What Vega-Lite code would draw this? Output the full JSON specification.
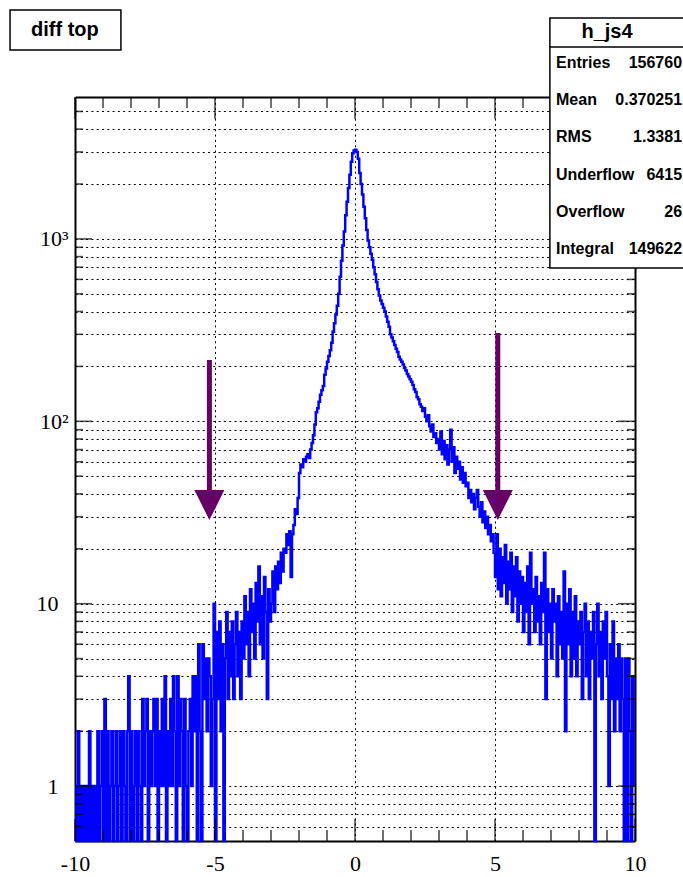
{
"$schema": "https://vega.github.io/schema/vega-lite/v6.json",
"width": 560, "height": 744,
"autosize": {"type": "none"},
"padding": {"left": 75, "top": 97, "right": 48, "bottom": 36},
"background": "white",
"config": {"view": {"stroke": null}, "axis": {"title": null, "labelFlush": false, "labelOverlap": false, "labelBound": false}},
"datasets": {
"hist": [
{"x":-10,"n":1},{"x":-9.95,"n":0},{"x":-9.9,"n":2},{"x":-9.85,"n":0},{"x":-9.8,"n":1},{"x":-9.75,"n":0},{"x":-9.7,"n":1},{"x":-9.65,"n":0},{"x":-9.6,"n":1},{"x":-9.55,"n":0},{"x":-9.5,"n":2},{"x":-9.45,"n":0},{"x":-9.4,"n":1},{"x":-9.35,"n":0},{"x":-9.3,"n":1},{"x":-9.25,"n":0},{"x":-9.2,"n":2},{"x":-9.15,"n":0},{"x":-9.1,"n":1},{"x":-9.05,"n":2},
{"x":-9,"n":0},{"x":-8.95,"n":3},{"x":-8.9,"n":0},{"x":-8.85,"n":2},{"x":-8.8,"n":0},{"x":-8.75,"n":1},{"x":-8.7,"n":2},{"x":-8.65,"n":0},{"x":-8.6,"n":1},{"x":-8.55,"n":2},{"x":-8.5,"n":0},{"x":-8.45,"n":1},{"x":-8.4,"n":2},{"x":-8.35,"n":0},{"x":-8.3,"n":2},{"x":-8.25,"n":1},{"x":-8.2,"n":0},{"x":-8.15,"n":2},{"x":-8.1,"n":4},{"x":-8.05,"n":0},
{"x":-8,"n":2},{"x":-7.95,"n":0},{"x":-7.9,"n":1},{"x":-7.85,"n":2},{"x":-7.8,"n":0},{"x":-7.75,"n":2},{"x":-7.7,"n":1},{"x":-7.65,"n":0},{"x":-7.6,"n":3},{"x":-7.55,"n":1},{"x":-7.5,"n":2},{"x":-7.45,"n":3},{"x":-7.4,"n":0},{"x":-7.35,"n":2},{"x":-7.3,"n":1},{"x":-7.25,"n":2},{"x":-7.2,"n":3},{"x":-7.15,"n":1},{"x":-7.1,"n":3},{"x":-7.05,"n":0},
{"x":-7,"n":2},{"x":-6.95,"n":1},{"x":-6.9,"n":3},{"x":-6.85,"n":1},{"x":-6.8,"n":4},{"x":-6.75,"n":0},{"x":-6.7,"n":2},{"x":-6.65,"n":1},{"x":-6.6,"n":3},{"x":-6.55,"n":1},{"x":-6.5,"n":4},{"x":-6.45,"n":2},{"x":-6.4,"n":0},{"x":-6.35,"n":4},{"x":-6.3,"n":1},{"x":-6.25,"n":3},{"x":-6.2,"n":2},{"x":-6.15,"n":0},{"x":-6.1,"n":3},{"x":-6.05,"n":1},
{"x":-6,"n":0},{"x":-5.95,"n":2},{"x":-5.9,"n":3},{"x":-5.85,"n":1},{"x":-5.8,"n":4},{"x":-5.75,"n":2},{"x":-5.7,"n":4},{"x":-5.65,"n":0},{"x":-5.6,"n":6},{"x":-5.55,"n":2},{"x":-5.5,"n":0},{"x":-5.45,"n":6},{"x":-5.4,"n":3},{"x":-5.35,"n":5},{"x":-5.3,"n":2},{"x":-5.25,"n":5},{"x":-5.2,"n":4},{"x":-5.15,"n":1},{"x":-5.1,"n":3},{"x":-5.05,"n":10},
{"x":-5,"n":0},{"x":-4.95,"n":7},{"x":-4.9,"n":3},{"x":-4.85,"n":8},{"x":-4.8,"n":2},{"x":-4.75,"n":6},{"x":-4.7,"n":0},{"x":-4.65,"n":5},{"x":-4.6,"n":9},{"x":-4.55,"n":3},{"x":-4.5,"n":7},{"x":-4.45,"n":4},{"x":-4.4,"n":8},{"x":-4.35,"n":3},{"x":-4.3,"n":6},{"x":-4.25,"n":9},{"x":-4.2,"n":4},{"x":-4.15,"n":7},{"x":-4.1,"n":3},{"x":-4.05,"n":8},
{"x":-4,"n":5},{"x":-3.95,"n":11},{"x":-3.9,"n":6},{"x":-3.85,"n":9},{"x":-3.8,"n":4},{"x":-3.75,"n":12},{"x":-3.7,"n":7},{"x":-3.65,"n":10},{"x":-3.6,"n":5},{"x":-3.55,"n":13},{"x":-3.5,"n":8},{"x":-3.45,"n":16},{"x":-3.4,"n":6},{"x":-3.35,"n":11},{"x":-3.3,"n":5},{"x":-3.25,"n":14},{"x":-3.2,"n":9},{"x":-3.15,"n":3},{"x":-3.1,"n":12},{"x":-3.05,"n":8},
{"x":-3,"n":10},{"x":-2.95,"n":15},{"x":-2.9,"n":9},{"x":-2.85,"n":16},{"x":-2.8,"n":12},{"x":-2.75,"n":17},{"x":-2.7,"n":13},{"x":-2.65,"n":19},{"x":-2.6,"n":15},{"x":-2.55,"n":20},{"x":-2.5,"n":19},{"x":-2.45,"n":24},{"x":-2.4,"n":21},{"x":-2.35,"n":25},{"x":-2.3,"n":14},{"x":-2.25,"n":24},{"x":-2.2,"n":27},{"x":-2.15,"n":33},{"x":-2.1,"n":31},{"x":-2.05,"n":38},
{"x":-2,"n":52},{"x":-1.95,"n":58},{"x":-1.9,"n":56},{"x":-1.85,"n":62},{"x":-1.8,"n":60},{"x":-1.75,"n":64},{"x":-1.7,"n":66},{"x":-1.65,"n":63},{"x":-1.6,"n":70},{"x":-1.55,"n":76},{"x":-1.5,"n":84},{"x":-1.45,"n":96},{"x":-1.4,"n":112},{"x":-1.35,"n":118},{"x":-1.3,"n":128},{"x":-1.25,"n":140},{"x":-1.2,"n":148},{"x":-1.15,"n":156},{"x":-1.1,"n":180},{"x":-1.05,"n":195},
{"x":-1,"n":212},{"x":-0.95,"n":228},{"x":-0.9,"n":245},{"x":-0.85,"n":270},{"x":-0.8,"n":310},{"x":-0.75,"n":345},{"x":-0.7,"n":385},{"x":-0.65,"n":430},{"x":-0.6,"n":500},{"x":-0.55,"n":620},{"x":-0.5,"n":760},{"x":-0.45,"n":920},{"x":-0.4,"n":1100},{"x":-0.35,"n":1350},{"x":-0.3,"n":1600},{"x":-0.25,"n":1900},{"x":-0.2,"n":2250},{"x":-0.15,"n":2650},{"x":-0.1,"n":2950},{"x":-0.05,"n":3050},
{"x":0,"n":3080},{"x":0.05,"n":3000},{"x":0.1,"n":2750},{"x":0.15,"n":2300},{"x":0.2,"n":2000},{"x":0.25,"n":1750},{"x":0.3,"n":1500},{"x":0.35,"n":1300},{"x":0.4,"n":1120},{"x":0.45,"n":980},{"x":0.5,"n":900},{"x":0.55,"n":830},{"x":0.6,"n":770},{"x":0.65,"n":700},{"x":0.7,"n":640},{"x":0.75,"n":580},{"x":0.8,"n":530},{"x":0.85,"n":490},{"x":0.9,"n":460},{"x":0.95,"n":440},
{"x":1,"n":420},{"x":1.05,"n":400},{"x":1.1,"n":375},{"x":1.15,"n":352},{"x":1.2,"n":330},{"x":1.25,"n":300},{"x":1.3,"n":288},{"x":1.35,"n":275},{"x":1.4,"n":262},{"x":1.45,"n":250},{"x":1.5,"n":240},{"x":1.55,"n":226},{"x":1.6,"n":218},{"x":1.65,"n":212},{"x":1.7,"n":205},{"x":1.75,"n":196},{"x":1.8,"n":190},{"x":1.85,"n":182},{"x":1.9,"n":176},{"x":1.95,"n":170},
{"x":2,"n":165},{"x":2.05,"n":158},{"x":2.1,"n":150},{"x":2.15,"n":145},{"x":2.2,"n":136},{"x":2.25,"n":132},{"x":2.3,"n":124},{"x":2.35,"n":120},{"x":2.4,"n":114},{"x":2.45,"n":118},{"x":2.5,"n":106},{"x":2.55,"n":100},{"x":2.6,"n":108},{"x":2.65,"n":94},{"x":2.7,"n":88},{"x":2.75,"n":96},{"x":2.8,"n":82},{"x":2.85,"n":86},{"x":2.9,"n":76},{"x":2.95,"n":80},
{"x":3,"n":70},{"x":3.05,"n":88},{"x":3.1,"n":66},{"x":3.15,"n":78},{"x":3.2,"n":62},{"x":3.25,"n":74},{"x":3.3,"n":58},{"x":3.35,"n":70},{"x":3.4,"n":90},{"x":3.45,"n":60},{"x":3.5,"n":72},{"x":3.55,"n":52},{"x":3.6,"n":64},{"x":3.65,"n":55},{"x":3.7,"n":60},{"x":3.75,"n":48},{"x":3.8,"n":56},{"x":3.85,"n":46},{"x":3.9,"n":52},{"x":3.95,"n":44},
{"x":4,"n":46},{"x":4.05,"n":38},{"x":4.1,"n":42},{"x":4.15,"n":36},{"x":4.2,"n":40},{"x":4.25,"n":33},{"x":4.3,"n":38},{"x":4.35,"n":42},{"x":4.4,"n":34},{"x":4.45,"n":30},{"x":4.5,"n":36},{"x":4.55,"n":28},{"x":4.6,"n":32},{"x":4.65,"n":26},{"x":4.7,"n":30},{"x":4.75,"n":24},{"x":4.8,"n":27},{"x":4.85,"n":22},{"x":4.9,"n":24},{"x":4.95,"n":19},
{"x":5,"n":14},{"x":5.05,"n":24},{"x":5.1,"n":12},{"x":5.15,"n":20},{"x":5.2,"n":11},{"x":5.25,"n":18},{"x":5.3,"n":13},{"x":5.35,"n":21},{"x":5.4,"n":10},{"x":5.45,"n":17},{"x":5.5,"n":12},{"x":5.55,"n":19},{"x":5.6,"n":9},{"x":5.65,"n":16},{"x":5.7,"n":11},{"x":5.75,"n":18},{"x":5.8,"n":8},{"x":5.85,"n":15},{"x":5.9,"n":10},{"x":5.95,"n":14},
{"x":6,"n":7},{"x":6.05,"n":13},{"x":6.1,"n":9},{"x":6.15,"n":16},{"x":6.2,"n":6},{"x":6.25,"n":19},{"x":6.3,"n":10},{"x":6.35,"n":12},{"x":6.4,"n":7},{"x":6.45,"n":14},{"x":6.5,"n":8},{"x":6.55,"n":11},{"x":6.6,"n":6},{"x":6.65,"n":13},{"x":6.7,"n":9},{"x":6.75,"n":19},{"x":6.8,"n":3},{"x":6.85,"n":12},{"x":6.9,"n":7},{"x":6.95,"n":10},
{"x":7,"n":5},{"x":7.05,"n":12},{"x":7.1,"n":8},{"x":7.15,"n":10},{"x":7.2,"n":4},{"x":7.25,"n":11},{"x":7.3,"n":6},{"x":7.35,"n":9},{"x":7.4,"n":5},{"x":7.45,"n":15},{"x":7.5,"n":2},{"x":7.55,"n":10},{"x":7.6,"n":6},{"x":7.65,"n":12},{"x":7.7,"n":4},{"x":7.75,"n":9},{"x":7.8,"n":5},{"x":7.85,"n":11},{"x":7.9,"n":4},{"x":7.95,"n":8},
{"x":8,"n":6},{"x":8.05,"n":9},{"x":8.1,"n":3},{"x":8.15,"n":7},{"x":8.2,"n":10},{"x":8.25,"n":4},{"x":8.3,"n":8},{"x":8.35,"n":3},{"x":8.4,"n":7},{"x":8.45,"n":5},{"x":8.5,"n":9},{"x":8.55,"n":0},{"x":8.6,"n":6},{"x":8.65,"n":10},{"x":8.7,"n":4},{"x":8.75,"n":7},{"x":8.8,"n":3},{"x":8.85,"n":8},{"x":8.9,"n":5},{"x":8.95,"n":9},
{"x":9,"n":4},{"x":9.05,"n":1},{"x":9.1,"n":6},{"x":9.15,"n":3},{"x":9.2,"n":8},{"x":9.25,"n":2},{"x":9.3,"n":5},{"x":9.35,"n":3},{"x":9.4,"n":6},{"x":9.45,"n":2},{"x":9.5,"n":5},{"x":9.55,"n":3},{"x":9.6,"n":0},{"x":9.65,"n":5},{"x":9.7,"n":0},{"x":9.75,"n":5},{"x":9.8,"n":2},{"x":9.85,"n":0},{"x":9.9,"n":4},{"x":9.95,"n":1}
],
"arrows": [{"x":-5.2,"top":217,"base":42},{"x":5.1,"top":305,"base":42}],
"stats": [{"stat":"Entries","value":"156760"},{"stat":"Mean","value":"0.370251"},{"stat":"RMS","value":"1.3381"},{"stat":"Underflow","value":"6415"},{"stat":"Overflow","value":"26"},{"stat":"Integral","value":"149622"}],
"tickx": [{"v":-10,"len":22},{"v":-9,"len":11},{"v":-8,"len":11},{"v":-7,"len":11},{"v":-6,"len":11},{"v":-5,"len":22},{"v":-4,"len":11},{"v":-3,"len":11},{"v":-2,"len":11},{"v":-1,"len":11},{"v":0,"len":22},{"v":1,"len":11},{"v":2,"len":11},{"v":3,"len":11},{"v":4,"len":11},{"v":5,"len":22},{"v":6,"len":11},{"v":7,"len":11},{"v":8,"len":11},{"v":9,"len":11},{"v":10,"len":22}],
"ticky": [{"v":0.6,"len":8},{"v":0.7,"len":8},{"v":0.8,"len":8},{"v":0.9,"len":8},{"v":1,"len":17},{"v":2,"len":8},{"v":3,"len":8},{"v":4,"len":8},{"v":5,"len":8},{"v":6,"len":8},{"v":7,"len":8},{"v":8,"len":8},{"v":9,"len":8},{"v":10,"len":17},{"v":20,"len":8},{"v":30,"len":8},{"v":40,"len":8},{"v":50,"len":8},{"v":60,"len":8},{"v":70,"len":8},{"v":80,"len":8},{"v":90,"len":8},{"v":100,"len":17},{"v":200,"len":8},{"v":300,"len":8},{"v":400,"len":8},{"v":500,"len":8},{"v":600,"len":8},{"v":700,"len":8},{"v":800,"len":8},{"v":900,"len":8},{"v":1000,"len":17},{"v":2000,"len":8},{"v":3000,"len":8},{"v":4000,"len":8},{"v":5000,"len":8}]
},
"layer": [
{
 "data": {"name": "hist"},
 "mark": {"type": "line", "interpolate": "step-after", "color": "#0000ff", "strokeWidth": 2.5},
 "encoding": {
  "x": {"field": "x", "type": "quantitative", "scale": {"domain": [-10, 10], "nice": false, "zero": false},
   "axis": {"orient": "bottom", "values": [-5,0,5], "zindex": 0, "domain": true, "domainColor": "black", "domainWidth": 2, "ticks": false, "labels": false,
    "grid": true, "gridColor": "black", "gridWidth": 1, "gridDash": [2, 3.3]}},
  "y": {"field": "n", "type": "quantitative", "scale": {"type": "log", "domain": [0.5, 6000], "nice": false, "clamp": true},
   "axis": {"orient": "left", "values": [0.6,0.7,0.8,0.9,1,2,3,4,5,6,7,8,9,10,20,30,40,50,60,70,80,90,100,200,300,400,500,600,700,800,900,1000,2000,3000,4000,5000], "zindex": 0,
    "domain": true, "domainColor": "black", "domainWidth": 2, "ticks": false, "labels": false,
    "grid": true, "gridColor": "black", "gridWidth": 1, "gridDash": [2, 3.3]}}
 }
},
{
 "data": {"name": "tickx"},
 "transform": [{"filter": "datum.len == 22"}],
 "mark": {"type": "tick", "color": "black", "thickness": 1.6, "orient": "vertical", "size": 22, "yOffset": -11},
 "encoding": {
  "x": {"field": "v", "type": "quantitative", "scale": {"domain": [-10, 10], "nice": false, "zero": false}, "axis": null},
  "y": {"datum": 0.5, "type": "quantitative", "scale": {"type": "log", "domain": [0.5, 6000], "nice": false}, "axis": null}
 }
},
{
 "data": {"name": "tickx"},
 "transform": [{"filter": "datum.len == 22"}],
 "mark": {"type": "tick", "color": "black", "thickness": 1.6, "orient": "vertical", "size": 22, "yOffset": 11},
 "encoding": {
  "x": {"field": "v", "type": "quantitative", "scale": {"domain": [-10, 10], "nice": false, "zero": false}, "axis": null},
  "y": {"datum": 6000, "type": "quantitative", "scale": {"type": "log", "domain": [0.5, 6000], "nice": false}, "axis": null}
 }
},
{
 "data": {"name": "tickx"},
 "transform": [{"filter": "datum.len == 11"}],
 "mark": {"type": "tick", "color": "black", "thickness": 1.6, "orient": "vertical", "size": 11, "yOffset": -5.5},
 "encoding": {
  "x": {"field": "v", "type": "quantitative", "scale": {"domain": [-10, 10], "nice": false, "zero": false}, "axis": null},
  "y": {"datum": 0.5, "type": "quantitative", "scale": {"type": "log", "domain": [0.5, 6000], "nice": false}, "axis": null}
 }
},
{
 "data": {"name": "tickx"},
 "transform": [{"filter": "datum.len == 11"}],
 "mark": {"type": "tick", "color": "black", "thickness": 1.6, "orient": "vertical", "size": 11, "yOffset": 5.5},
 "encoding": {
  "x": {"field": "v", "type": "quantitative", "scale": {"domain": [-10, 10], "nice": false, "zero": false}, "axis": null},
  "y": {"datum": 6000, "type": "quantitative", "scale": {"type": "log", "domain": [0.5, 6000], "nice": false}, "axis": null}
 }
},
{
 "data": {"name": "ticky"},
 "transform": [{"filter": "datum.len == 17"}],
 "mark": {"type": "tick", "color": "black", "thickness": 1.6, "orient": "horizontal", "size": 17, "xOffset": 8.5},
 "encoding": {
  "y": {"field": "v", "type": "quantitative", "scale": {"type": "log", "domain": [0.5, 6000], "nice": false}, "axis": null},
  "x": {"datum": -10, "type": "quantitative", "scale": {"domain": [-10, 10], "nice": false, "zero": false}, "axis": null}
 }
},
{
 "data": {"name": "ticky"},
 "transform": [{"filter": "datum.len == 17"}],
 "mark": {"type": "tick", "color": "black", "thickness": 1.6, "orient": "horizontal", "size": 17, "xOffset": -8.5},
 "encoding": {
  "y": {"field": "v", "type": "quantitative", "scale": {"type": "log", "domain": [0.5, 6000], "nice": false}, "axis": null},
  "x": {"datum": 10, "type": "quantitative", "scale": {"domain": [-10, 10], "nice": false, "zero": false}, "axis": null}
 }
},
{
 "data": {"name": "ticky"},
 "transform": [{"filter": "datum.len == 8"}],
 "mark": {"type": "tick", "color": "black", "thickness": 1.6, "orient": "horizontal", "size": 8, "xOffset": 4},
 "encoding": {
  "y": {"field": "v", "type": "quantitative", "scale": {"type": "log", "domain": [0.5, 6000], "nice": false}, "axis": null},
  "x": {"datum": -10, "type": "quantitative", "scale": {"domain": [-10, 10], "nice": false, "zero": false}, "axis": null}
 }
},
{
 "data": {"name": "ticky"},
 "transform": [{"filter": "datum.len == 8"}],
 "mark": {"type": "tick", "color": "black", "thickness": 1.6, "orient": "horizontal", "size": 8, "xOffset": -4},
 "encoding": {
  "y": {"field": "v", "type": "quantitative", "scale": {"type": "log", "domain": [0.5, 6000], "nice": false}, "axis": null},
  "x": {"datum": 10, "type": "quantitative", "scale": {"domain": [-10, 10], "nice": false, "zero": false}, "axis": null}
 }
},
{
 "data": {"name": "arrows"},
 "mark": {"type": "rule", "color": "#660066", "strokeWidth": 5},
 "encoding": {
  "x": {"field": "x", "type": "quantitative", "scale": {"domain": [-10, 10], "nice": false, "zero": false},
   "axis": {"orient": "bottom", "values": [-10,-5,0,5,10], "domain": false, "grid": false, "ticks": false, "tickSize": 0,
    "labels": true, "labelExpr": "'' + datum.value",
    "labelFont": "Liberation Serif", "labelFontSize": 22, "labelColor": "black", "labelPadding": 12}},
  "y": {"field": "top", "type": "quantitative", "scale": {"type": "log", "domain": [0.5, 6000], "nice": false},
   "axis": {"orient": "left", "values": [1,10,100,1000], "domain": false, "grid": false, "ticks": false, "tickSize": 0,
    "labels": true, "labelExpr": "datum.value==1?'1':datum.value==10?'10':datum.value==100?'10²':'10³'",
    "labelFont": "Liberation Serif", "labelFontSize": 22, "labelColor": "black", "labelBaseline": "middle",
    "labelPadding": {"condition": {"test": "datum.value>=100", "value": 7}, "value": 17}}},
  "y2": {"field": "base"}
 }
},
{
 "data": {"name": "arrows"},
 "mark": {"type": "point", "shape": "M-1,0L1,0L0,2Z", "size": 900, "filled": true, "color": "#660066", "opacity": 1, "strokeWidth": 0},
 "encoding": {
  "x": {"field": "x", "type": "quantitative", "scale": {"domain": [-10, 10], "nice": false, "zero": false}, "axis": null},
  "y": {"field": "base", "type": "quantitative", "scale": {"type": "log", "domain": [0.5, 6000], "nice": false}, "axis": null}
 }
},
{
 "data": {"values": [{}]},
 "mark": {"type": "rect", "fill": "white", "stroke": "black", "strokeWidth": 1.5},
 "encoding": {
  "x": {"datum": -12.32, "type": "quantitative", "scale": {"domain": [-10, 10], "nice": false, "zero": false}, "axis": null},
  "x2": {"datum": -8.36},
  "y": {"datum": 17992, "type": "quantitative", "scale": {"type": "log", "domain": [0.5, 6000], "nice": false}, "axis": null},
  "y2": {"datum": 10861}
 }
},
{
 "data": {"values": [{}]},
 "mark": {"type": "text", "text": "diff top", "font": "Liberation Sans", "fontSize": 20, "fontWeight": "bold", "color": "black", "align": "center", "baseline": "middle"},
 "encoding": {
  "x": {"datum": -10.36, "type": "quantitative", "scale": {"domain": [-10, 10], "nice": false, "zero": false}, "axis": null},
  "y": {"datum": 13983, "type": "quantitative", "scale": {"type": "log", "domain": [0.5, 6000], "nice": false}, "axis": null}
 }
},
{
 "data": {"values": [{}]},
 "mark": {"type": "rect", "fill": "white", "stroke": "black", "strokeWidth": 1.5},
 "encoding": {
  "x": {"datum": 6.96, "type": "quantitative", "scale": {"domain": [-10, 10], "nice": false, "zero": false},
   "axis": {"orient": "top", "values": [], "domain": true, "domainColor": "black", "domainWidth": 2, "ticks": false, "labels": false, "grid": false, "zindex": 0}},
  "x2": {"datum": 12.5},
  "y": {"datum": 16265, "type": "quantitative", "scale": {"type": "log", "domain": [0.5, 6000], "nice": false},
   "axis": {"orient": "right", "values": [], "domain": true, "domainColor": "black", "domainWidth": 2, "ticks": false, "labels": false, "grid": false, "zindex": 0}},
  "y2": {"datum": 692.8}
 }
},
{
 "data": {"values": [{}]},
 "mark": {"type": "rule", "color": "black", "strokeWidth": 1.5},
 "encoding": {
  "x": {"datum": 6.96, "type": "quantitative", "scale": {"domain": [-10, 10], "nice": false, "zero": false}, "axis": null},
  "x2": {"datum": 12.5},
  "y": {"datum": 11279, "type": "quantitative", "scale": {"type": "log", "domain": [0.5, 6000], "nice": false}, "axis": null}
 }
},
{
 "data": {"values": [{}]},
 "mark": {"type": "text", "text": "h_js4", "font": "Liberation Sans", "fontSize": 20, "fontWeight": "bold", "color": "black", "align": "center", "baseline": "middle"},
 "encoding": {
  "x": {"datum": 9.0, "type": "quantitative", "scale": {"domain": [-10, 10], "nice": false, "zero": false}, "axis": null},
  "y": {"datum": 13628, "type": "quantitative", "scale": {"type": "log", "domain": [0.5, 6000], "nice": false}, "axis": null}
 }
},
{
 "data": {"name": "stats"},
 "mark": {"type": "text", "font": "Liberation Sans", "fontSize": 16, "fontWeight": "bold", "color": "black", "align": "left", "baseline": "middle"},
 "encoding": {
  "x": {"datum": 7.18, "type": "quantitative", "scale": {"domain": [-10, 10], "nice": false, "zero": false}, "axis": null},
  "y": {"field": "stat", "type": "nominal", "scale": {"type": "point", "domain": ["Entries","Mean","RMS","Underflow","Overflow","Integral"], "range": [-34, 152], "padding": 0}, "axis": null},
  "text": {"field": "stat"}
 }
},
{
 "data": {"name": "stats"},
 "mark": {"type": "text", "font": "Liberation Sans", "fontSize": 16, "fontWeight": "bold", "color": "black", "align": "right", "baseline": "middle"},
 "encoding": {
  "x": {"datum": 11.68, "type": "quantitative", "scale": {"domain": [-10, 10], "nice": false, "zero": false}, "axis": null},
  "y": {"field": "stat", "type": "nominal", "scale": {"type": "point", "domain": ["Entries","Mean","RMS","Underflow","Overflow","Integral"], "range": [-34, 152], "padding": 0}, "axis": null},
  "text": {"field": "value"}
 }
}
],
"resolve": {"scale": {"y": "independent"}, "axis": {"x": "independent", "y": "independent"}}
}
